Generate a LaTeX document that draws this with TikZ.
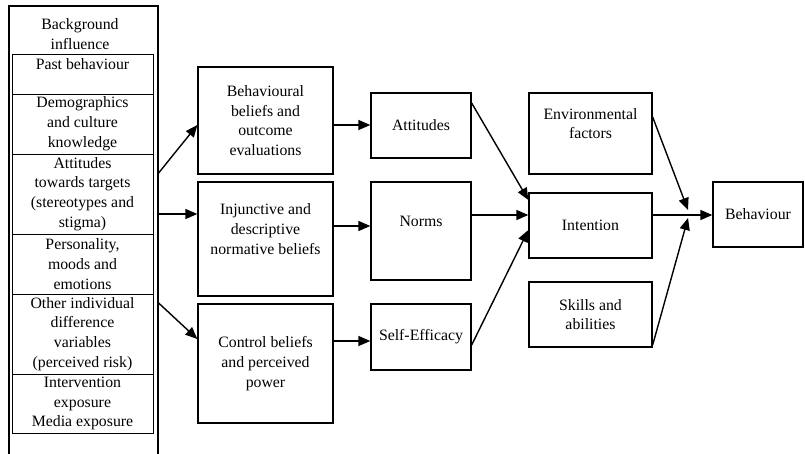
\documentclass[tikz,border=0pt]{standalone}
\usepackage{fontspec}
\setmainfont{Liberation Serif}
\usetikzlibrary{arrows.meta}
\newcommand\diafs{\fontsize{15.8pt}{19.8pt}\selectfont}
\begin{document}
\begin{tikzpicture}[x=1pt,y=-1pt,
  box/.style={draw, line width=1.3pt, align=center, inner sep=0pt, font=\diafs},
  cell/.style={draw, line width=0.9pt, align=center, inner sep=0pt, minimum width=141pt, font=\diafs},
  arr/.style={-{Triangle[length=12pt,width=10pt]}, line width=1.4pt}]
\useasboundingbox (0,0) rectangle (805,453);
% left column
\node[draw, line width=1.6pt, minimum width=149pt, minimum height=470pt, anchor=north west, inner sep=0pt] (bg) at (8,5) {};
\node[font=\diafs, align=center, inner sep=0pt] (bgt) at (80,34) {Background\\influence};
\node[cell, minimum height=40pt] (past) at (82.5,74) {Past behaviour\\\mbox{}};
\node[cell, minimum height=60pt] (demo) at (82.5,124) {Demographics\\and culture\\knowledge};
\node[cell, minimum height=80pt] (attg) at (82.5,194) {Attitudes\\towards targets\\(stereotypes and\\stigma)};
\node[cell, minimum height=60pt] (pers) at (82.5,264) {Personality,\\moods and\\emotions};
\node[cell, minimum height=80pt] (oth) at (82.5,334) {Other individual\\difference\\variables\\(perceived risk)};
\node[cell, minimum height=59pt] (intv) at (82.5,403.5) {Intervention\\exposure\\Media exposure};
% middle
\node[box, minimum width=135pt, minimum height=107pt] (beh) at (265.5,120.5) {Behavioural\\beliefs and\\outcome\\evaluations};
\node[box, minimum width=135pt, minimum height=114pt] (inj) at (265.5,239) {Injunctive and\\descriptive\\normative beliefs\\\mbox{}};
\node[box, minimum width=135pt, minimum height=119pt] (ctl) at (265.5,363.5) {Control beliefs\\and perceived\\power};
\node[box, minimum width=100pt, minimum height=65pt] (att) at (421,125.5) {Attitudes};
\node[box, minimum width=100pt, minimum height=98pt] (nor) at (421,231) {Norms\\\mbox{}};
\node[box, minimum width=100pt, minimum height=66pt] (eff) at (421,337) {Self-Efficacy};
\node[box, minimum width=123pt, minimum height=81pt] (env) at (590.5,133.5) {Environmental\\factors\\\mbox{}};
\node[box, minimum width=123pt, minimum height=65pt] (int) at (590.5,225.5) {Intention};
\node[box, minimum width=123pt, minimum height=65pt] (ski) at (590.5,314.5) {Skills and\\abilities};
\node[box, minimum width=90pt, minimum height=65pt] (bhv) at (758,214.5) {Behaviour};
\coordinate (j1) at (688,210);
\coordinate (j2) at (688,218);
% arrows
\draw[arr] (bg.east |- 0,173) -- (beh.west |- 0,125);
\draw[arr] (bg.east |- 0,214) -- (inj.west |- 0,214);
\draw[arr] (bg.east |- 0,303) -- (ctl.west |- 0,339);
\draw[arr] (beh.east |- 0,125) -- (att.west |- 0,125);
\draw[arr] (inj.east |- 0,226) -- (nor.west |- 0,226);
\draw[arr] (ctl.east |- 0,341) -- (eff.west |- 0,341);
\draw[arr] (att.east |- 0,103) -- (int.west |- 0,200);
\draw[arr] (nor.east |- 0,215) -- (int.west |- 0,215);
\draw[arr] (eff.east |- 0,345) -- (int.west |- 0,230);
\draw[arr] (env.east |- 0,117) -- (j1);
\draw[arr] (ski.east |- 0,345) -- (j2);
\draw[arr] (int.east |- 0,215) -- (bhv.west |- 0,215);
\end{tikzpicture}
\end{document}
